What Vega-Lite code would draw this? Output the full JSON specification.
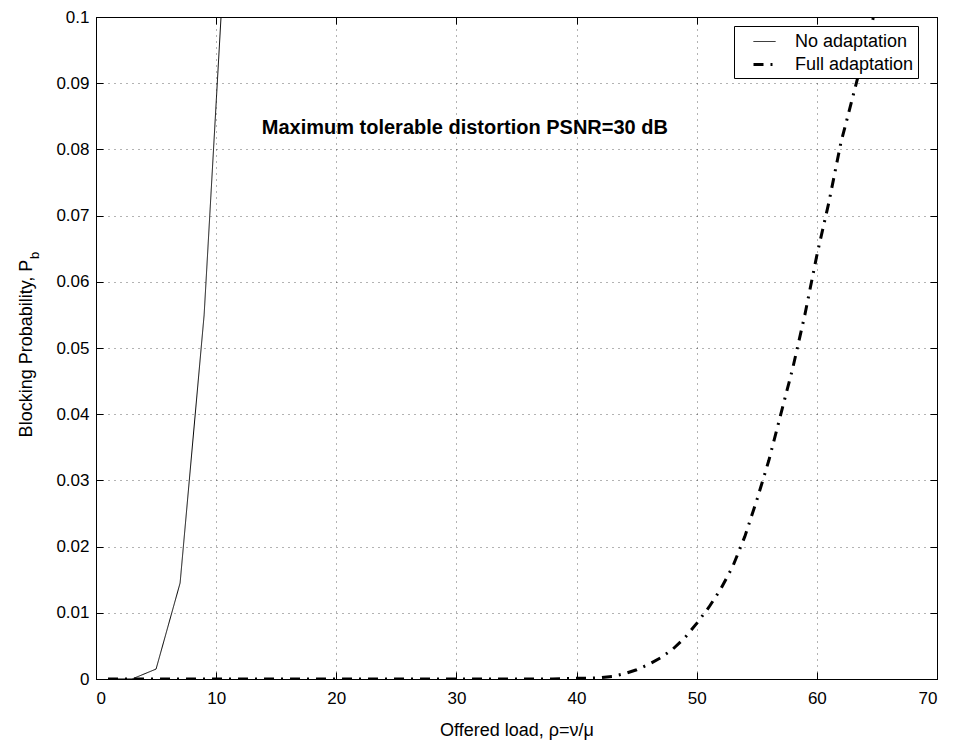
{
  "$schema": "https://vega.github.io/schema/vega-lite/v6.json",
  "autosize": {"type": "none"},
  "width": 841,
  "height": 662,
  "padding": {"left": 96, "top": 17, "right": 19, "bottom": 71},
  "background": "white",
  "config": {
    "font": "Liberation Sans",
    "view": {"stroke": "black", "strokeWidth": 1},
    "axis": {
      "labelFont": "Liberation Sans", "labelFontSize": 17, "labelColor": "black",
      "titleFont": "Liberation Sans", "titleFontSize": 18, "titleFontWeight": "normal", "titleColor": "black",
      "domainColor": "black", "tickColor": "black", "tickSize": -7,
      "gridColor": "black", "gridDash": [1, 5], "gridOpacity": 0.6
    }
  },
  "datasets": {
    "curves": [
      {"series": "No adaptation", "x": 1, "y": 0},
      {"series": "No adaptation", "x": 3, "y": 0},
      {"series": "No adaptation", "x": 5, "y": 0.0015},
      {"series": "No adaptation", "x": 7, "y": 0.0145},
      {"series": "No adaptation", "x": 9, "y": 0.055},
      {"series": "No adaptation", "x": 11, "y": 0.119},
      {"series": "Full adaptation", "x": 1, "y": 0},
      {"series": "Full adaptation", "x": 10, "y": 0},
      {"series": "Full adaptation", "x": 20, "y": 0},
      {"series": "Full adaptation", "x": 30, "y": 0},
      {"series": "Full adaptation", "x": 38, "y": 0},
      {"series": "Full adaptation", "x": 40, "y": 0.0001},
      {"series": "Full adaptation", "x": 41, "y": 0.0001},
      {"series": "Full adaptation", "x": 42, "y": 0.0002},
      {"series": "Full adaptation", "x": 43, "y": 0.0004},
      {"series": "Full adaptation", "x": 44, "y": 0.0008},
      {"series": "Full adaptation", "x": 45, "y": 0.0014},
      {"series": "Full adaptation", "x": 46, "y": 0.0022},
      {"series": "Full adaptation", "x": 47, "y": 0.0032},
      {"series": "Full adaptation", "x": 48, "y": 0.0045},
      {"series": "Full adaptation", "x": 49, "y": 0.0062},
      {"series": "Full adaptation", "x": 50, "y": 0.0084},
      {"series": "Full adaptation", "x": 51, "y": 0.0108},
      {"series": "Full adaptation", "x": 52, "y": 0.0136},
      {"series": "Full adaptation", "x": 53, "y": 0.0170},
      {"series": "Full adaptation", "x": 54, "y": 0.0215},
      {"series": "Full adaptation", "x": 55, "y": 0.027},
      {"series": "Full adaptation", "x": 56, "y": 0.033},
      {"series": "Full adaptation", "x": 57, "y": 0.040},
      {"series": "Full adaptation", "x": 58, "y": 0.047},
      {"series": "Full adaptation", "x": 59, "y": 0.055},
      {"series": "Full adaptation", "x": 60, "y": 0.064},
      {"series": "Full adaptation", "x": 61, "y": 0.072},
      {"series": "Full adaptation", "x": 62, "y": 0.081},
      {"series": "Full adaptation", "x": 63, "y": 0.088},
      {"series": "Full adaptation", "x": 64, "y": 0.095},
      {"series": "Full adaptation", "x": 65, "y": 0.102},
      {"series": "Full adaptation", "x": 66, "y": 0.110}
    ],
    "notes": [
      {"x": 30.7, "y": 0.0832, "label": "Maximum tolerable distortion PSNR=30 dB"}
    ],
    "sub": [
      {"x": -5.1, "y": 0.0640, "label": "b"}
    ]
  },
  "resolve": {"axis": {"x": "independent", "y": "independent"}},
  "layer": [
    {
      "data": {"name": "curves"},
      "mark": {"type": "line", "clip": true},
      "encoding": {
        "x": {"field": "x", "type": "quantitative",
              "scale": {"domain": [0, 70], "nice": false},
              "axis": {"values": [0,10,20,30,40,50,60,70], "title": "Offered load, ρ=ν/μ", "labelPadding": 18, "titlePadding": 15}},
        "y": {"field": "y", "type": "quantitative",
              "scale": {"domain": [0, 0.1], "nice": false},
              "axis": {"values": [0,0.01,0.02,0.03,0.04,0.05,0.06,0.07,0.08,0.09,0.1], "format": "~g", "title": "Blocking Probability, P", "labelPadding": 14, "titlePadding": 20}},
        "color": {"field": "series", "type": "nominal",
                  "scale": {"domain": ["No adaptation", "Full adaptation"], "range": ["black", "black"]},
                  "legend": {"orient": "none", "legendX": 638, "legendY": 9, "title": null,
                             "strokeColor": "black", "fillColor": "white", "padding": 4,
                             "labelFontSize": 18, "labelFont": "Liberation Sans", "labelColor": "black",
                             "symbolType": "stroke", "symbolSize": 484, "rowPadding": 1, "labelOffset": 18, "symbolOffset": 14}},
        "strokeDash": {"field": "series", "type": "nominal",
                       "scale": {"domain": ["No adaptation", "Full adaptation"], "range": [[1, 0], [10, 7, 2, 7]]},
                       "legend": null},
        "strokeWidth": {"field": "series", "type": "nominal",
                        "scale": {"domain": ["No adaptation", "Full adaptation"], "range": [1, 3]},
                        "legend": null}
      }
    },
    {
      "data": {"name": "notes"},
      "mark": {"type": "text", "fontSize": 20, "fontWeight": "bold", "font": "Liberation Sans", "color": "black"},
      "encoding": {
        "x": {"field": "x", "type": "quantitative", "axis": {"orient": "top", "values": [0,10,20,30,40,50,60,70], "labels": false, "title": null, "grid": false, "domain": false}},
        "y": {"field": "y", "type": "quantitative", "axis": {"orient": "right", "values": [0,0.01,0.02,0.03,0.04,0.05,0.06,0.07,0.08,0.09,0.1], "labels": false, "title": null, "grid": false, "domain": false}},
        "text": {"field": "label"}
      }
    },
    {
      "data": {"name": "sub"},
      "mark": {"type": "text", "fontSize": 13, "font": "Liberation Sans", "color": "black", "angle": 270},
      "encoding": {
        "x": {"field": "x", "type": "quantitative", "axis": null},
        "y": {"field": "y", "type": "quantitative", "axis": null},
        "text": {"field": "label"}
      }
    }
  ]
}
